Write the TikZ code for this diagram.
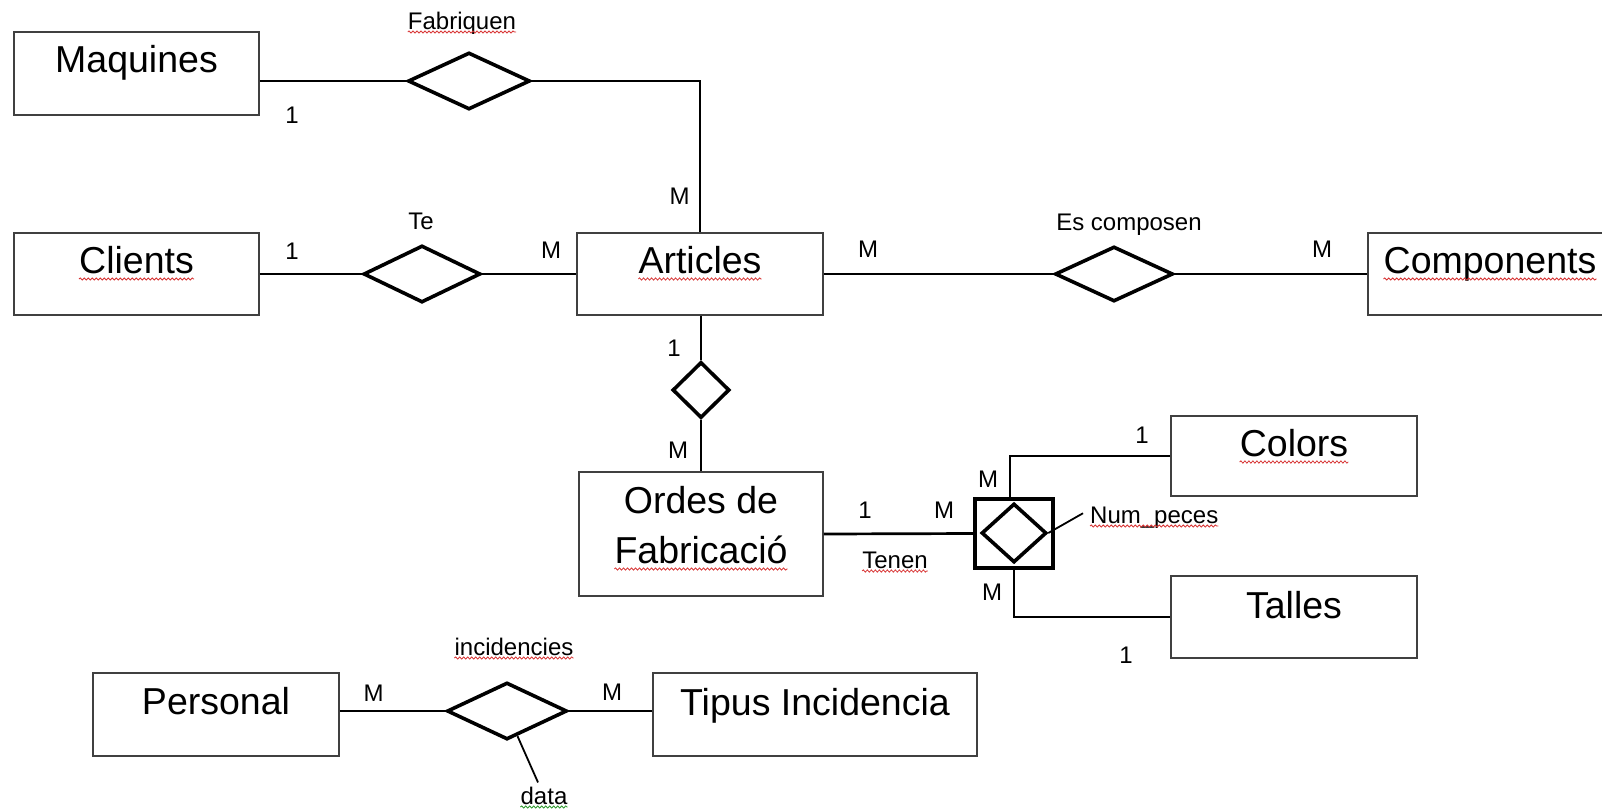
\documentclass[tikz,border=0pt]{standalone}
\usepackage{fontspec}
\setmainfont{Liberation Sans}
\usetikzlibrary{shapes.geometric,decorations.pathmorphing,calc}
\newcommand\entfont{\fontsize{37.5}{45}\selectfont}
\newcommand\lblfont{\fontsize{24}{29}\selectfont}
\definecolor{spellred}{RGB}{215,50,50}
\definecolor{spellgreen}{RGB}{40,150,40}
\newlength\partw
\begin{document}
\begin{tikzpicture}[x=1pt,y=-1pt,
  entity/.style={draw=black!75, line width=1.5pt, fill=white, inner sep=0pt},
  enttext/.style={font=\entfont, inner sep=0pt, anchor=base},
  lbl/.style={font=\lblfont, inner sep=0pt, anchor=base},
  rel/.style={diamond, draw, line width=3.6pt, fill=white, inner sep=0pt},
  link/.style={line width=2.7pt},
  thinlink/.style={line width=1.8pt},
  spell/.style={draw=spellred, line width=0.8pt, decorate,
                decoration={snake, amplitude=1.1pt, segment length=4pt}},
  spellg/.style={spell, draw=spellgreen}]
\useasboundingbox (0,0) rectangle (1602,809);

% entities
\node[entity, minimum width=245pt, minimum height=83pt] (maq)  at (136.5,73.5) {};
\node[entity, minimum width=245pt, minimum height=82pt] (cli)  at (136.5,274) {};
\node[entity, minimum width=246pt, minimum height=82pt] (art)  at (700,274) {};
\node[entity, minimum width=244pt, minimum height=82pt] (comp) at (1490,274) {};
\node[entity, minimum width=244pt, minimum height=124pt] (ord) at (701,534) {};
\node[entity, minimum width=246pt, minimum height=80pt] (col)  at (1294,456) {};
\node[entity, minimum width=246pt, minimum height=82pt] (tal)  at (1294,617) {};
\node[entity, minimum width=246pt, minimum height=83pt] (per)  at (216,714.5) {};
\node[entity, minimum width=324pt, minimum height=83pt] (tip)  at (815,714.5) {};

% entity names
\node[enttext] (maqt)  at (136.5,72) {Maquines};
\node[enttext] (clit)  at (136.5,273) {Clients};
\node[enttext] (artt)  at (700,273) {Articles};
\node[enttext] (compt) at (1490,273) {Components};
\node[enttext] (ord1)  at (701,513) {Ordes de};
\node[enttext] (ord2)  at (701,563) {Fabricació};
\node[enttext] (colt)  at (1294,456) {Colors};
\node[enttext] (talt)  at (1294,618) {Talles};
\node[enttext] (pert)  at (216,714) {Personal};
\node[enttext] (tipt)  at (815,715) {Tipus Incidencia};

% relationships
\node[rel, minimum width=122pt, minimum height=57pt] (fab) at (469,81) {};
\node[rel, minimum width=117pt, minimum height=57pt] (te)  at (422,274) {};
\node[rel, minimum width=118pt, minimum height=55pt] (esc) at (1114,274) {};
\node[rel, minimum width=57pt, minimum height=56pt]  (ao)  at (701,390) {};
\node[rel, minimum width=120pt, minimum height=57pt] (inc) at (507,711) {};
\node[draw, line width=4pt, fill=white, inner sep=0pt,
      minimum width=78pt, minimum height=69pt] (sq) at (1014,533.5) {};
\node[rel, minimum width=65pt, minimum height=59pt] (tn) at (1014,533) {};

% connectors
\draw[link] (maq.east |- fab.west) -- (fab.west);
\draw[link] (fab.east) -| (art.north);
\draw[link] (cli.east) -- (te.west);
\draw[link] (te.east) -- (art.west);
\draw[link] (art.east) -- (esc.west);
\draw[link] (esc.east) -- (comp.west);
\draw[link] (ao.north |- art.south) -- (ao.north);
\draw[link] (ao.south) -- (ao.south |- ord.north);
\draw[link] (ord.east) -- (sq.west);
\draw[link] ([xshift=-4pt]sq.north) |- (col.west);
\draw[link] (sq.south) |- (tal.west);
\draw[link] (per.east |- inc.west) -- (inc.west);
\draw[link] (inc.east) -- (inc.east -| tip.west);

% relationship and attribute labels
\node[lbl] (fabt)   at (462,29) {Fabriquen};
\node[lbl] (tet)    at (421,229) {Te};
\node[lbl] (esct)   at (1129,230) {Es composen};
\node[lbl] (tenent) at (895,568) {Tenen};
\node[lbl, anchor=base west] (npt) at (1090,523) {Num\_peces};
\node[lbl] (inct)   at (514,655) {incidencies};
\node[lbl] (datat)  at (544,804) {data};
\draw[thinlink] (tn.east) -- ([xshift=-7pt,yshift=4pt]npt.west);
\coordinate (dstart) at ($(inc.south)!0.17!(inc.east)$);
\draw[thinlink] (dstart) -- ([xshift=-6pt,yshift=4pt]datat.north);

% cardinalities
\node[lbl] (c1) at (292,123) {1};
\node[lbl] (c2) at (679.5,204) {M};
\node[lbl] (c3) at (292,259) {1};
\node[lbl] (c4) at (551,258) {M};
\node[lbl] (c5) at (868,257) {M};
\node[lbl] (c6) at (1322,257) {M};
\node[lbl] (c7) at (674,356) {1};
\node[lbl] (c8) at (678,458) {M};
\node[lbl] (c9) at (865,518) {1};
\node[lbl] (c10) at (944,518) {M};
\node[lbl] (c11) at (988,487) {M};
\node[lbl] (c12) at (992,600) {M};
\node[lbl] (c13) at (1142,443) {1};
\node[lbl] (c14) at (1126,663) {1};
\node[lbl] (c15) at (373.5,701) {M};
\node[lbl] (c16) at (612,700) {M};

% spelling marks under words
\draw[spell] ([yshift=-3pt]fabt.base west) -- ([yshift=-3pt]fabt.base east);
\draw[spell] ([yshift=-6pt]clit.base west) -- ([yshift=-6pt]clit.base east);
\draw[spell] ([yshift=-6pt]artt.base west) -- ([yshift=-6pt]artt.base east);
\draw[spell] ([yshift=-6pt]compt.base west) -- ([yshift=-6pt]compt.base east);
\settowidth\partw{\entfont Ordes}
\draw[spell] ([yshift=-6pt]ord1.base west) -- ++(\partw,0pt);
\draw[spell] ([yshift=-6pt]ord2.base west) -- ([yshift=-6pt]ord2.base east);
\draw[spell] ([yshift=-6pt]colt.base west) -- ([yshift=-6pt]colt.base east);
\settowidth\partw{\entfont Tipus}
\draw[spell] ([yshift=-6pt]tipt.base west) -- ++(\partw,0pt);
\draw[spell] ([yshift=-3pt]tenent.base west) -- ([yshift=-3pt]tenent.base east);
\draw[spell] ([yshift=-3pt]npt.base west) -- ([yshift=-3pt]npt.base east);
\draw[spell] ([yshift=-3pt]inct.base west) -- ([yshift=-3pt]inct.base east);
\draw[spellg] ([yshift=-3pt]datat.base west) -- ([yshift=-3pt]datat.base east);
\end{tikzpicture}
\end{document}
